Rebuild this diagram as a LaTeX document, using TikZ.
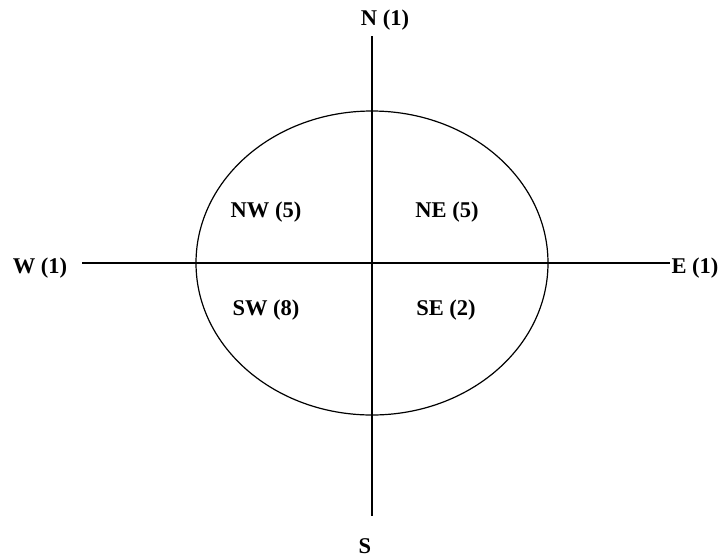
\documentclass[tikz,border=0pt]{standalone}
\usepackage{fontspec}
\setmainfont{Liberation Serif}
\usetikzlibrary{shapes.geometric}
\begin{document}
\begin{tikzpicture}[x=1pt,y=-1pt,
  lbl/.style={font=\fontsize{22.5}{24}\selectfont\bfseries, inner sep=0pt},
  axis/.style={line width=1.2pt, draw=black}]
\useasboundingbox[fill=white] (0,0) rectangle (721,558);
\node[ellipse, draw, line width=1.2pt, minimum width=352pt, minimum height=304pt, inner sep=0pt] (circ) at (372,263) {};
\coordinate (ntop) at (372,36);
\coordinate (sbot) at (372,516);
\coordinate (wend) at (82,263);
\coordinate (eend) at (670,263);
\draw[axis] (ntop) -- (sbot);
\draw[axis] (wend) -- (eend);
\node[lbl] (N) at (385,20) {N (1)};
\node[lbl] (S) at (365,546) {S};
\node[lbl] (W) at (40,268) {W (1)};
\node[lbl] (E) at (695,268) {E (1)};
\node[lbl] (NW) at (266,212) {NW (5)};
\node[lbl] (NE) at (447,212) {NE (5)};
\node[lbl] (SW) at (266,310) {SW (8)};
\node[lbl] (SE) at (446,310) {SE (2)};
\end{tikzpicture}
\end{document}
